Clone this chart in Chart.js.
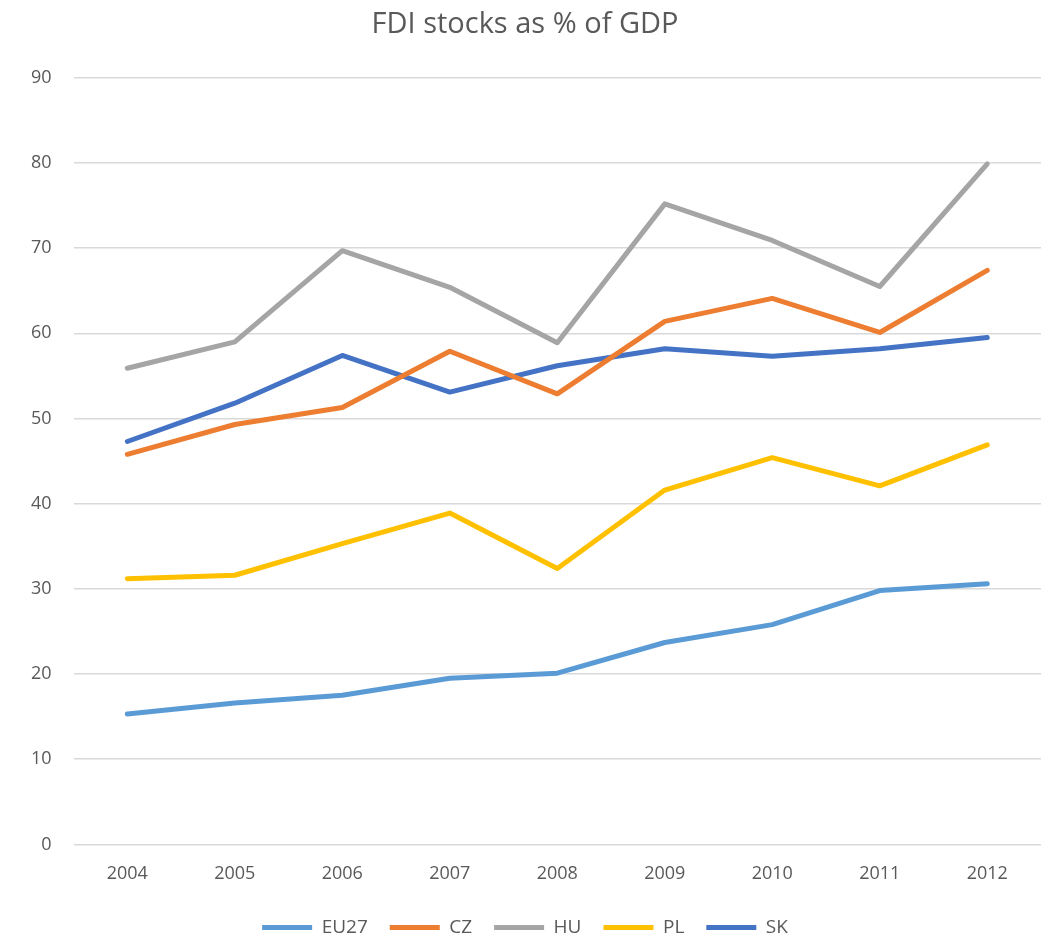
<!DOCTYPE html>
<html>
<head>
<meta charset="utf-8">
<script src="https://cdn.jsdelivr.net/npm/chart.js@4"></script>
<style>
  html, body { margin: 0; padding: 0; background: #fff; }
  #wrap { width: 1051px; height: 937px; }
</style>
</head>
<body>
<div id="wrap"><canvas id="fdiChart"></canvas></div>
<script>
const years = ["2004", "2005", "2006", "2007", "2008", "2009", "2010", "2011", "2012"];
const eu27 = [15.3, 16.6, 17.5, 19.5, 20.1, 23.7, 25.8, 29.8, 30.6];
const cz = [45.8, 49.3, 51.3, 57.9, 52.9, 61.4, 64.1, 60.1, 67.4];
const hu = [55.9, 59.0, 69.7, 65.4, 58.9, 75.2, 70.9, 65.5, 79.9];
const pl = [31.2, 31.6, 35.3, 38.9, 32.4, 41.6, 45.4, 42.1, 46.9];
const sk = [47.3, 51.8, 57.4, 53.1, 56.2, 58.2, 57.3, 58.2, 59.5];

const textColor = "#595959";
const fontName = "'Open Sans', 'Noto Sans', sans-serif";

function series(label, data, color) {
    return {
        label: label,
        data: data,
        borderColor: color,
        backgroundColor: color,
        borderWidth: 5,
        borderCapStyle: "round",
        borderJoinStyle: "round",
        pointRadius: 0,
        pointHoverRadius: 0,
        pointStyle: "line",
        tension: 0,
        fill: false,
    };
}

const ctx = document.getElementById("fdiChart").getContext("2d");
const myChart = new Chart(ctx, {
    type: "line",
    data: {
        labels: years,
        datasets: [
            series("EU27", eu27, "#5B9BD5"),
            series("CZ", cz, "#ED7D31"),
            series("HU", hu, "#A5A5A5"),
            series("PL", pl, "#FFC000"),
            series("SK", sk, "#4472C4"),
        ],
    },
    options: {
        responsive: true,
        maintainAspectRatio: false,
        animation: false,
        layout: {
            padding: { left: 9, right: 10, top: 7, bottom: -10 },
        },
        plugins: {
            title: {
                display: true,
                text: "FDI stocks as % of GDP",
                color: textColor,
                font: { family: fontName, size: 29, weight: "normal" },
                padding: { top: 0, bottom: 36 },
            },
            legend: {
                position: "bottom",
                labels: {
                    usePointStyle: true,
                    pointStyleWidth: 50,
                    boxHeight: 5,
                    color: textColor,
                    font: { family: fontName, size: 19 },
                    padding: 22,
                },
            },
            tooltip: { enabled: false },
        },
        scales: {
            x: {
                offset: true,
                grid: { display: false },
                border: { display: false },
                ticks: {
                    color: textColor,
                    font: { family: fontName, size: 18 },
                    padding: 11,
                },
            },
            y: {
                min: 0,
                max: 90,
                border: { display: false },
                grid: { color: "#d9d9d9", lineWidth: 1.5, drawTicks: false },
                ticks: {
                    stepSize: 10,
                    color: textColor,
                    font: { family: fontName, size: 18 },
                    padding: 22,
                },
            },
        },
    },
});
</script>
</body>
</html>
